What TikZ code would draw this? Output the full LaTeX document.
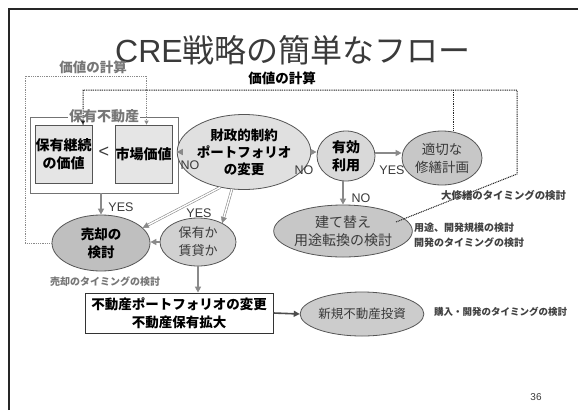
\documentclass[tikz,border=0pt]{standalone}
\usepackage{fontspec}
\setmainfont{Noto Sans CJK JP}
\newfontfamily\lat{Liberation Sans}
\usetikzlibrary{shapes.geometric,arrows.meta,calc}
\definecolor{edge}{HTML}{555555}
\definecolor{arrg}{HTML}{8A8A8A}
\definecolor{txtg}{HTML}{777777}
\definecolor{txtd}{HTML}{3A3A3A}
\tikzset{
  fs/.style={font=\fontsize{#1}{18}\selectfont},
  fsb/.style={font=\bfseries\fontsize{#1}{18}\selectfont},
  ell/.style={ellipse, draw=edge, line width=0.8pt, inner sep=0pt, align=center},
  bx/.style={draw=edge, line width=0.8pt, inner sep=0pt, align=center},
  arr/.style={draw=arrg, line width=1.6pt, -{Triangle[length=6pt,width=6pt]}},
  dbl/.style={draw=arrg, line width=0.6pt, double=white, double distance=1.4pt},
  tip/.style={draw=arrg, line width=0.3pt, -{Triangle[length=6pt,width=6pt]}},
  gdot/.style={draw=arrg, line width=1pt, dash pattern=on 1pt off 0.8pt, -{Triangle[length=4pt,width=4pt]}},
  kdot/.style={draw=black!85, line width=1pt, dash pattern=on 1pt off 0.8pt},
  lbl/.style={font=\lat\fontsize{12.5}{14}\selectfont, text=txtd, inner sep=0pt},
  note/.style={font=\bfseries\fontsize{10}{15}\selectfont, inner sep=0pt, align=left, anchor=west},
}
\begin{document}
\begin{tikzpicture}[x=1pt,y=-1pt]
\useasboundingbox (0,0) rectangle (578,410);
\fill[white] (0,0) rectangle (578,410);
\draw[black!85, line width=1.3pt] (9,410) -- (9,9) -- (578,9);

% title
\node[fs=32, text=txtd, inner sep=0pt] (title) at (293,50) {{\lat CRE}戦略の簡単なフロー};

% value labels
\node[fsb=13.5, text=txtg, inner sep=0pt] (calcA) at (93,67) {価値の計算};
\node[fsb=13.5, text=black, inner sep=0pt] (calcB) at (282,78) {価値の計算};

% holdings box
\node[bx, draw=black!55, fill=white, minimum width=148pt, minimum height=76pt] (hold) at (104,155) {};
\node[fsb=14, text=txtg, fill=white, inner sep=1pt] (holdlbl) at (104,116) {保有不動産};
\node[bx, fill=black!10, minimum width=57pt, minimum height=58pt, fsb=14] (cont) at (63.5,154) {保有継続\\の価値};
\node[bx, fill=black!10, minimum width=57pt, minimum height=58pt, fsb=14] (mkt) at (143.5,154) {市場価値};
\node[font=\lat\fontsize{18}{18}\selectfont, text=txtd, inner sep=0pt] (lt) at (104,152) {<};

% ellipses
\node[ell, fill=black!12, minimum width=88pt, minimum height=75pt, font=\bfseries\fontsize{13.5}{17}\selectfont] (fin) at (244,152) {財政的制約\\ポートフォリオ\\の変更};
\node[ell, fill=black!15, minimum width=58pt, minimum height=50pt, fsb=14] (eff) at (346,156) {有効\\利用};
\node[ell, fill=black!22, minimum width=80pt, minimum height=54pt, fs=13.5, text=txtd] (rep) at (442,158) {適切な\\修繕計画};
\node[ell, fill=black!22, minimum width=122pt, minimum height=52pt, fs=14, text=txtd] (reb) at (343,231) {建て替え\\用途転換の検討};
\node[ell, fill=black!25, minimum width=98pt, minimum height=56pt, fsb=13.5] (sell) at (101,243) {売却の\\検討};
\node[ell, fill=black!18, minimum width=76pt, minimum height=48pt, fs=13, text=txtd] (own) at (198,242) {保有か\\賃貸か};
\node[bx, draw=black!80, fill=white, minimum width=188pt, minimum height=40pt, fsb=13.5] (port) at (179,313) {不動産ポートフォリオの変更\\不動産保有拡大};
\node[ell, fill=black!20, minimum width=100pt, minimum height=44pt, fs=12.5, text=txtd] (inv) at (362,314) {新規不動産投資};

% notes
\node[note, text=txtg] (a1) at (50,282) {売却のタイミングの検討};
\node[note, font=\bfseries\fontsize{10.4}{15}\selectfont, text=black!75] (a2) at (441,195) {大修繕のタイミングの検討};
\node[note, text=black!75] (a3) at (414,235) {用途、開発規模の検討\\開発のタイミングの検討};
\node[note, font=\bfseries\fontsize{9.5}{15}\selectfont, text=black!75] (a4) at (434,312) {購入・開発のタイミングの検討};
\node[font=\lat\fontsize{10}{12}\selectfont, text=txtd, inner sep=0pt] (num) at (536,397) {36};

% arrows
\draw[arr] (hold.east |- fin.west) -- (fin.west);
\draw[arr] (fin.east) -- (eff.west |- fin.east);
\draw[arr] (eff.east |- 0,153) -- (rep.west |- 0,153);
\draw[arr] (eff.south -| 343,0) -- (reb.north);
\draw[arr] (sell.north |- hold.south) -- (sell.north);
\draw[arr] (own.west) -- (sell.east |- own.west);
\draw[arr] (own.south) -- (own.south |- port.north);
\draw[draw=black!70, line width=1.6pt, -{Triangle[length=6pt,width=6pt]}] (port.east) -- (inv.west);

% double arrows
\draw[dbl] (fin.236) -- ($(sell.20)!6pt!(fin.236)$);
\draw[tip] ($(sell.20)!6.5pt!(fin.236)$) -- (sell.20);
\draw[dbl] (fin.252) -- ($(own.38)!6pt!(fin.252)$);
\draw[tip] ($(own.38)!6.5pt!(fin.252)$) -- (own.38);

% arrow labels
\node[lbl] (no1) at (190,165) {NO};
\node[lbl] (no2) at (304,170) {NO};
\node[lbl] (yes1) at (392,170) {YES};
\node[lbl] (no3) at (361,198) {NO};
\node[lbl] (yes2) at (121,207) {YES};
\node[lbl] (yes3) at (199,213) {YES};

% dotted value lines
\coordinate (cA) at (25,76);
\draw[gdot] (sell.west) -| (cA) -| ([xshift=3pt]mkt.north);
\coordinate (cB) at (83,90);
\coordinate (cC) at (517,90);
\coordinate (cD) at (517,174);
\coordinate (cE) at (453,90);
\coordinate (cF) at (396,222);
\draw[kdot] (cF) -- (cD) -- (cC) -- (cB) -- (cB |- cont.north);
\fill[black!85] ($(cB |- cont.north)+(-2.2,-4)$) -- ($(cB |- cont.north)+(2.2,-4)$) -- (cB |- cont.north) -- cycle;
\draw[kdot] (cE) -- (cE |- rep.north);
\end{tikzpicture}
\end{document}
